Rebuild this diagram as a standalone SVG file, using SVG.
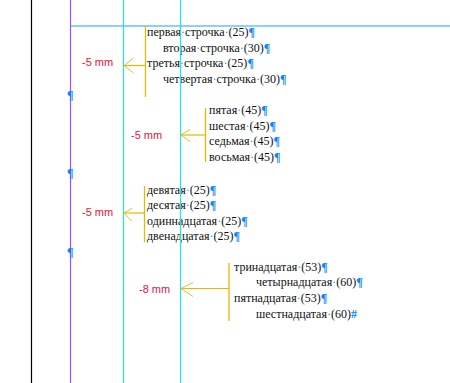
<svg xmlns="http://www.w3.org/2000/svg" width="450" height="383" viewBox="0 0 450 383">
<style>
.t{font-family:"Liberation Serif","Times New Roman",serif;font-size:12px;fill:#111}
.s{fill:#1e90ff}
.p{fill:#0a84ff;font-weight:bold}
.lbl{font-family:"Liberation Sans",Arial,sans-serif;font-size:11px;fill:#e8103c}
.br{stroke:#e6b800;stroke-width:1.3;fill:none}
.sh{stroke:#e6b800;stroke-width:1.2;fill:none}
.hd{stroke:#e6b800;stroke-width:0.9;fill:none}
.g{fill:none}
</style>
<rect width="450" height="383" fill="#fff"/>
<g id="guides">
<line x1="31.5" y1="0" x2="31.5" y2="383" stroke="#000" stroke-width="1.2"/>
<line x1="70.5" y1="0" x2="70.5" y2="383" stroke="#a24dff" stroke-width="1.2"/>
<line x1="70" y1="26" x2="450" y2="26" stroke="#1aa3f0" stroke-width="1.2"/>
</g>
<g id="margin-pilcrows">
<text class="t p" x="67" y="99">¶</text>
<text class="t p" x="67" y="177">¶</text>
<text class="t p" x="67" y="256">¶</text>
</g>
<g id="connectors">
<line class="br" x1="145.5" y1="26" x2="145.5" y2="97"/>
<line class="sh" x1="124" y1="65.5" x2="145.5" y2="65.5"/>
<path class="hd" d="M133.5,58 L124,65.5 L133.5,73"/>
<line class="br" x1="205.5" y1="108" x2="205.5" y2="162"/>
<line class="sh" x1="181" y1="135" x2="205.5" y2="135"/>
<path class="hd" d="M190,129.5 L181,135 L190,141.5"/>
<line class="br" x1="144.5" y1="186" x2="144.5" y2="242"/>
<line class="sh" x1="124" y1="213" x2="144.5" y2="213"/>
<path class="hd" d="M132,208.5 L124,213 L132,221.5"/>
<line class="br" x1="229" y1="263" x2="229" y2="321"/>
<line class="sh" x1="181" y1="288.5" x2="229" y2="288.5"/>
<path class="hd" d="M193,282.5 L181,288.5 L193,296.5"/>
</g>
<g id="node1">
<text class="lbl" x="82" y="66">-5 mm</text>
<text class="t" x="147" y="36">первая<tspan class="s">·</tspan>строчка<tspan class="s">·</tspan>(25)<tspan class="p">¶</tspan></text>
<text class="t" x="163" y="51.5">вторая<tspan class="s">·</tspan>строчка<tspan class="s">·</tspan>(30)<tspan class="p">¶</tspan></text>
<text class="t" x="147" y="67">третья<tspan class="s">·</tspan>строчка<tspan class="s">·</tspan>(25)<tspan class="p">¶</tspan></text>
<text class="t" x="163" y="82.5">четвертая<tspan class="s">·</tspan>строчка<tspan class="s">·</tspan>(30)<tspan class="p">¶</tspan></text>
</g>
<g id="node2">
<text class="lbl" x="131" y="139">-5 mm</text>
<text class="t" x="209" y="114">пятая<tspan class="s">·</tspan>(45)<tspan class="p">¶</tspan></text>
<text class="t" x="209" y="129.5">шестая<tspan class="s">·</tspan>(45)<tspan class="p">¶</tspan></text>
<text class="t" x="209" y="145">седьмая<tspan class="s">·</tspan>(45)<tspan class="p">¶</tspan></text>
<text class="t" x="209" y="160.5">восьмая<tspan class="s">·</tspan>(45)<tspan class="p">¶</tspan></text>
</g>
<g id="node3">
<text class="lbl" x="82" y="216">-5 mm</text>
<text class="t" x="147" y="193.5">девятая<tspan class="s">·</tspan>(25)<tspan class="p">¶</tspan></text>
<text class="t" x="147" y="209">десятая<tspan class="s">·</tspan>(25)<tspan class="p">¶</tspan></text>
<text class="t" x="147" y="224.5">одиннадцатая<tspan class="s">·</tspan>(25)<tspan class="p">¶</tspan></text>
<text class="t" x="147" y="240">двенадцатая<tspan class="s">·</tspan>(25)<tspan class="p">¶</tspan></text>
</g>
<g id="node4">
<text class="lbl" x="139" y="292.5">-8 mm</text>
<text class="t" x="234" y="270.5">тринадцатая<tspan class="s">·</tspan>(53)<tspan class="p">¶</tspan></text>
<text class="t" x="256" y="286.3">четырнадцатая<tspan class="s">·</tspan>(60)<tspan class="p">¶</tspan></text>
<text class="t" x="234" y="302">пятнадцатая<tspan class="s">·</tspan>(53)<tspan class="p">¶</tspan></text>
<text class="t" x="256" y="318">шестнадцатая<tspan class="s">·</tspan>(60)<tspan class="p">#</tspan></text>
</g>
<g id="cyan-guides">
<line x1="123.5" y1="0" x2="123.5" y2="383" stroke="#1ee6f0" stroke-width="1.2"/>
<line x1="180.5" y1="0" x2="180.5" y2="383" stroke="#1ee6f0" stroke-width="1.2"/>
</g>
</svg>
